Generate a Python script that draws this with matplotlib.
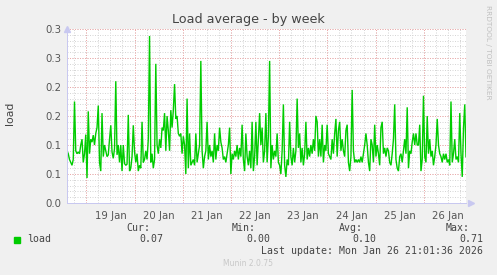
import numpy as np
import matplotlib
matplotlib.use("Agg")
import matplotlib.pyplot as plt

# ---- data (load average, ~30 min steps) ----
day1 = [0.09, 0.085, 0.075, 0.07, 0.065, 0.075, 0.175, 0.09, 0.085, 0.088,
        0.085, 0.1, 0.11, 0.07, 0.085, 0.118, 0.043, 0.158, 0.085, 0.11,
        0.105, 0.117, 0.1, 0.12, 0.13, 0.168, 0.07, 0.055, 0.155, 0.08,
        0.1, 0.09, 0.08, 0.083, 0.11, 0.134, 0.088, 0.077, 0.094, 0.21]
day2 = [0.083, 0.1, 0.07, 0.1, 0.055, 0.1, 0.068, 0.065, 0.067, 0.152,
        0.055, 0.06, 0.08, 0.134, 0.088, 0.07, 0.085, 0.055, 0.065, 0.06,
        0.14, 0.07, 0.075, 0.09, 0.075, 0.11, 0.288, 0.07, 0.085, 0.06,
        0.075, 0.24, 0.1, 0.085, 0.11, 0.095, 0.13, 0.125, 0.155, 0.09]
day3 = [0.15, 0.125, 0.09, 0.16, 0.13, 0.16, 0.205, 0.145, 0.15, 0.12,
        0.115, 0.12, 0.085, 0.115, 0.1, 0.05, 0.18, 0.06, 0.12, 0.065,
        0.07, 0.075, 0.065, 0.12, 0.07, 0.085, 0.1, 0.245, 0.09, 0.06,
        0.08, 0.09, 0.14, 0.075, 0.1, 0.08, 0.09, 0.07, 0.12, 0.075]
day4 = [0.1, 0.09, 0.13, 0.105, 0.095, 0.075, 0.08, 0.07, 0.085, 0.1,
        0.13, 0.05, 0.085, 0.075, 0.09, 0.08, 0.1, 0.075, 0.095, 0.08,
        0.135, 0.075, 0.055, 0.12, 0.08, 0.065, 0.09, 0.06, 0.14, 0.055,
        0.08, 0.14, 0.065, 0.11, 0.155, 0.1, 0.13, 0.07, 0.09, 0.155]
day5 = [0.07, 0.115, 0.245, 0.06, 0.1, 0.075, 0.09, 0.08, 0.12, 0.07,
        0.065, 0.05, 0.09, 0.17, 0.065, 0.045, 0.075, 0.065, 0.14, 0.08,
        0.065, 0.095, 0.07, 0.09, 0.18, 0.095, 0.12, 0.07, 0.095, 0.065,
        0.085, 0.14, 0.075, 0.095, 0.08, 0.1, 0.085, 0.11, 0.09, 0.15]
day6 = [0.14, 0.08, 0.11, 0.08, 0.135, 0.07, 0.1, 0.09, 0.135, 0.085,
        0.08, 0.075, 0.11, 0.085, 0.12, 0.145, 0.08, 0.125, 0.14, 0.09,
        0.11, 0.09, 0.08, 0.125, 0.135, 0.07, 0.055, 0.08, 0.195, 0.09,
        0.07, 0.075, 0.07, 0.075, 0.07, 0.08, 0.07, 0.085, 0.1, 0.12]
day7 = [0.1, 0.07, 0.055, 0.11, 0.1, 0.07, 0.135, 0.08, 0.1, 0.085,
        0.065, 0.13, 0.14, 0.085, 0.095, 0.08, 0.095, 0.09, 0.07, 0.065,
        0.085, 0.11, 0.17, 0.075, 0.06, 0.055, 0.08, 0.085, 0.07, 0.09,
        0.11, 0.085, 0.165, 0.06, 0.09, 0.085, 0.105, 0.12, 0.1, 0.12]
day8 = [0.1, 0.1, 0.135, 0.055, 0.075, 0.185, 0.08, 0.07, 0.15, 0.085,
        0.11, 0.08, 0.09, 0.065, 0.08, 0.1, 0.145, 0.1, 0.085, 0.08,
        0.07, 0.085, 0.075, 0.085, 0.07, 0.075, 0.065, 0.175, 0.07, 0.085,
        0.11, 0.075, 0.08, 0.07, 0.155, 0.085, 0.045, 0.13, 0.17, 0.08]

day_labels = ["19 Jan", "20 Jan", "21 Jan", "22 Jan", "23 Jan", "24 Jan", "25 Jan", "26 Jan"]
ytick_vals = [0.0, 0.05, 0.10, 0.15, 0.20, 0.25, 0.30]
ytick_labels = ["0.0", "0.1", "0.1", "0.2", "0.2", "0.3", "0.3"]
legend_name = "load"
stats_heads = ["Cur:", "Min:", "Avg:", "Max:"]
stats_vals = ["0.07", "0.00", "0.10", "0.71"]
last_update = "Last update: Mon Jan 26 21:01:36 2026"

# time in days relative to 19 Jan 00:00
t_start, t_end = -0.40, 7.875
load = np.array(day1 + day2 + day3 + day4 + day5 + day6 + day7 + day8)
t = np.linspace(t_start, t_end, len(load))

# ---- figure ----
W, H = 497, 275
fig = plt.figure(figsize=(W / 100, H / 100), dpi=100, facecolor="#F0F0F0")
ax_l, ax_r, ax_t, ax_b = 67, 466, 29, 203
ax = fig.add_axes([ax_l / W, 1 - ax_b / H, (ax_r - ax_l) / W, (ax_b - ax_t) / H])
ax.set_facecolor("white")
ax.set_xlim(t_start, t_end)
ax.set_ylim(0, 0.30)

px = 0.72  # one pixel in points
grid_gray = "#D6D6D6"
grid_red = "#EDAAAA"
dots = (0, (1, 1.5))

# minor grid
for h in np.arange(np.ceil(t_start * 4) / 4, t_end, 0.25):
    ax.axvline(h, color=grid_gray, lw=px, ls=dots, zorder=1)
for y in np.arange(0.01, 0.305, 0.01):
    ax.axhline(y, color=grid_gray, lw=px, ls=dots, zorder=1)
# major grid
for d in range(0, 8):
    ax.axvline(d, color=grid_red, lw=px, ls=dots, zorder=2)
for y in ytick_vals[1:]:
    ax.axhline(y, color=grid_red, lw=px, ls=dots, zorder=2)

ax.plot(t, load, color="#00CC00", lw=1.0, zorder=3, solid_joinstyle="miter")

for s in ["top", "right"]:
    ax.spines[s].set_visible(False)
for s in ["left", "bottom"]:
    ax.spines[s].set_color("#C8C8F0")
    ax.spines[s].set_linewidth(px)
    ax.spines[s].set_zorder(4)

ax.set_yticks(ytick_vals)
ax.set_yticklabels(ytick_labels)
ax.set_xticks(np.arange(len(day_labels)) + 0.5)
ax.set_xticklabels(day_labels)
ax.tick_params(axis="both", length=0, labelsize=7.3, colors="#555555", pad=4)
ax.tick_params(axis="x", pad=6)

# axis arrows
ax.plot([0], [1.0], transform=ax.transAxes, marker="^", ms=5, color="#C8C8F0",
        clip_on=False, zorder=5)
ax.plot([1.012], [0], transform=ax.transAxes, marker=">", ms=5, color="#C8C8F0",
        clip_on=False, zorder=5)

# texts
fig.text(248 / W, 1 - 19 / H, "Load average - by week", ha="center", va="center",
         fontsize=9.2, color="#444444")
fig.text(10 / W, 1 - 113 / H, "load", rotation=90, ha="center", va="center",
         fontsize=7.8, color="#444444")
fig.text(488 / W, 1 - 5 / H, "RRDTOOL / TOBI OETIKER", rotation=270, ha="center",
         va="top", fontsize=5.3, color="#C0C0C0")

mono = "DejaVu Sans Mono"
fs = 7.1
tc = "#444444"
fig.patches.append(plt.Rectangle((14 / W, 1 - 243 / H), 6 / W, 6 / H,
                                 transform=fig.transFigure, color="#00CC00"))
fig.text(27 / W, 1 - 239.5 / H, legend_name, family=mono, fontsize=fs, color=tc,
         va="center", ha="left")
head_right = [150, 256, 363, 470]
val_right = [163, 270, 376, 483]
for hd, v, hr, vr in zip(stats_heads, stats_vals, head_right, val_right):
    fig.text(hr / W, 1 - 228 / H, hd, family=mono, fontsize=fs, color=tc,
             ha="right", va="center")
    fig.text(vr / W, 1 - 239.5 / H, v, family=mono, fontsize=fs, color=tc,
             ha="right", va="center")
fig.text(483 / W, 1 - 251.5 / H, last_update, family=mono, fontsize=fs, color=tc,
         ha="right", va="center")
fig.text(248 / W, 1 - 264 / H, "Munin 2.0.75", fontsize=5.5, color="#C8C8C8",
         ha="center", va="center")

fig.savefig("out.png", dpi=100, facecolor=fig.get_facecolor())
